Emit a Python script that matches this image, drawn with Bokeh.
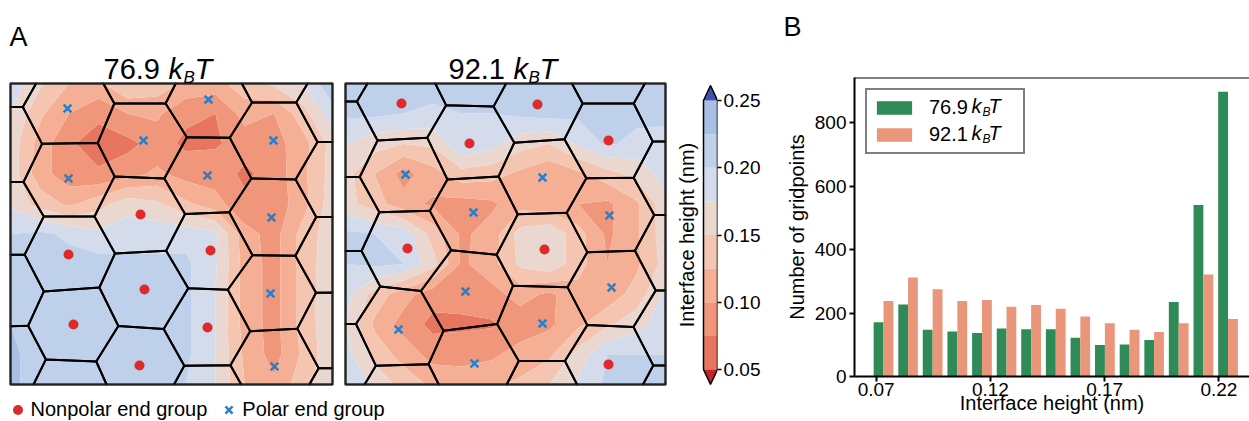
import numpy as np
from bokeh.plotting import figure
from bokeh.models import (Range1d, LinearAxis, FixedTicker, PrintfTickFormatter,
                          Label, Legend, LegendItem, Span, ColumnDataSource, Title)
from bokeh.layouts import row
from bokeh.embed import file_html
from bokeh.resources import INLINE

FONT = "Liberation Sans"

# ======================= Panel A data =======================
levels = [0.05, 0.075, 0.10, 0.125, 0.15, 0.175, 0.20, 0.225, 0.25]
cbar_ticks = [0.05, 0.10, 0.15, 0.20, 0.25]
band_colors = ["#e8765f", "#f0977b", "#f5af94", "#f4c6b1",
               "#ead7cf", "#d4dcec", "#bfd0ea", "#a9c0e4"]
under_color = "#c0272d"
over_color = "#3f52b4"

map_titles = ["76.9", "92.1"]
box76 = (322, 301)   # map extent (grid units)
box92 = (320, 301)

# interface height on a coarse grid (rows top -> bottom, cols left -> right), nm
h76 = [
    [0.190, 0.155, 0.125, 0.120, 0.150, 0.140, 0.120, 0.115, 0.140, 0.155, 0.175, 0.220],
    [0.175, 0.130, 0.100, 0.080, 0.100, 0.105, 0.080, 0.075, 0.110, 0.100, 0.140, 0.190],
    [0.165, 0.115, 0.078, 0.065, 0.068, 0.085, 0.070, 0.072, 0.085, 0.090, 0.115, 0.160],
    [0.165, 0.110, 0.085, 0.078, 0.090, 0.105, 0.090, 0.088, 0.070, 0.085, 0.120, 0.160],
    [0.170, 0.140, 0.120, 0.140, 0.165, 0.155, 0.130, 0.110, 0.080, 0.085, 0.115, 0.165],
    [0.200, 0.205, 0.195, 0.180, 0.190, 0.190, 0.190, 0.180, 0.110, 0.090, 0.135, 0.165],
    [0.205, 0.210, 0.210, 0.210, 0.205, 0.205, 0.205, 0.178, 0.115, 0.090, 0.135, 0.168],
    [0.210, 0.210, 0.210, 0.210, 0.210, 0.210, 0.205, 0.175, 0.115, 0.090, 0.135, 0.170],
    [0.225, 0.210, 0.210, 0.210, 0.210, 0.210, 0.205, 0.175, 0.115, 0.090, 0.135, 0.170],
    [0.230, 0.215, 0.210, 0.210, 0.210, 0.210, 0.205, 0.175, 0.120, 0.090, 0.130, 0.170],
    [0.230, 0.215, 0.210, 0.210, 0.210, 0.205, 0.200, 0.175, 0.125, 0.105, 0.140, 0.170],
]
h92 = [
    [0.210, 0.210, 0.215, 0.210, 0.210, 0.210, 0.210, 0.215, 0.210, 0.210, 0.210, 0.210],
    [0.205, 0.205, 0.200, 0.195, 0.200, 0.200, 0.205, 0.210, 0.205, 0.205, 0.210, 0.210],
    [0.175, 0.160, 0.150, 0.155, 0.200, 0.185, 0.160, 0.150, 0.180, 0.205, 0.190, 0.185],
    [0.160, 0.125, 0.090, 0.115, 0.140, 0.135, 0.120, 0.105, 0.120, 0.140, 0.160, 0.185],
    [0.160, 0.135, 0.110, 0.095, 0.090, 0.095, 0.115, 0.110, 0.100, 0.095, 0.120, 0.165],
    [0.205, 0.200, 0.190, 0.140, 0.095, 0.110, 0.160, 0.170, 0.135, 0.095, 0.120, 0.165],
    [0.200, 0.205, 0.200, 0.160, 0.095, 0.115, 0.155, 0.170, 0.135, 0.100, 0.120, 0.160],
    [0.185, 0.140, 0.110, 0.085, 0.085, 0.090, 0.110, 0.095, 0.115, 0.110, 0.135, 0.180],
    [0.175, 0.120, 0.090, 0.068, 0.070, 0.072, 0.085, 0.095, 0.120, 0.145, 0.165, 0.190],
    [0.185, 0.140, 0.115, 0.090, 0.090, 0.095, 0.110, 0.120, 0.160, 0.200, 0.200, 0.200],
    [0.200, 0.170, 0.140, 0.120, 0.115, 0.120, 0.130, 0.150, 0.180, 0.205, 0.210, 0.210],
]

# end-group lattice sites (grid units, y measured from top of map)
nonpolar76_x = [130, 58, 200, 134, 63, 197, 129]
nonpolar76_y = [131, 171, 167, 206, 241, 244, 282]
polar76_x = [57, 133, 198, 263, 58, 197, 261, 260, 264]
polar76_y = [25, 57, 16, 57, 95, 92, 134, 210, 283]
outside76_x = [-12, -12, -12, -11, -9, -9, 58, 60, 133, 131, 198, 198, 263, 263,
               330, 330, 330, 330, 331, 332, 332]
outside76_y = [-14, 61, 136, 207, 279, 352, -47, 313, -17, 357, -59, 320, -19, 357,
               -54, 21, 96, 171, 247, 322, 397]

nonpolar92_x = [56, 192, 124, 263, 62, 199, 263]
nonpolar92_y = [20, 21, 60, 57, 165, 166, 281]
polar92_x = [60, 197, 128, 264, 120, 266, 53, 197, 129]
polar92_y = [91, 94, 129, 132, 208, 204, 246, 240, 280]
outside92_x = [-12, -12, -12, -12, -12, -12, 57, 55, 126, 127, 194, 197, 263, 263,
               333, 333, 333, 333, 333, 333, 333]
outside92_y = [-20, 56, 131, 204, 277, 350, -53, 317, -15, 353, -53, 315, -17, 355,
               -52, 22, 94, 169, 245, 319, 392]

marker_labels = ["Nonpolar end group", "Polar end group"]

# ======================= Panel B data =======================
bin_edges = [0.0678, 0.0786, 0.0893, 0.1001, 0.1109, 0.1217, 0.1324, 0.1432,
             0.1540, 0.1647, 0.1755, 0.1863, 0.1970, 0.2078, 0.2186, 0.2294]
count_76 = [171, 227, 147, 142, 137, 151, 149, 149, 122, 99, 101, 115, 235, 540, 897]
count_92 = [238, 312, 275, 238, 241, 220, 225, 213, 189, 168, 147, 140, 168, 321, 181]
hist_xticks = [0.07, 0.12, 0.17, 0.22]
hist_yticks = [0, 200, 400, 600, 800]
series_names = ["76.9", "92.1"]
series_colors = ["#2e8b57", "#e9967a"]

RED = "#dd2a2a"
BLUE = "#2a7ec8"


# ---------------- helpers ----------------
def clip_poly(poly, a, b, c):
    out = []
    n = len(poly)
    for i in range(n):
        P = poly[i]
        Q = poly[(i + 1) % n]
        fp = a * P[0] + b * P[1] - c
        fq = a * Q[0] + b * Q[1] - c
        if fp <= 0:
            out.append(P)
        if fp * fq < 0:
            t = fp / (fp - fq)
            out.append((P[0] + t * (Q[0] - P[0]), P[1] + t * (Q[1] - P[1])))
    return out


def voronoi_cells(sx, sy, W, H):
    xs, ys = [], []
    for i in range(len(sx)):
        poly = [(0, 0), (W, 0), (W, H), (0, H)]
        for j in range(len(sx)):
            if i == j:
                continue
            a = 2.0 * (sx[j] - sx[i])
            b = 2.0 * (sy[j] - sy[i])
            c = sx[j] ** 2 + sy[j] ** 2 - sx[i] ** 2 - sy[i] ** 2
            poly = clip_poly(poly, a, b, c)
            if len(poly) < 3:
                break
        if len(poly) >= 3:
            xs.append([p[0] for p in poly])
            ys.append([p[1] for p in poly])
    return xs, ys


def add_kbt(p, x, y, fs, sub_fs, offs, sub_dy, baseline="alphabetic"):
    common = dict(x=x, y=y, text_font=FONT, text_color="black",
                  text_baseline=baseline, text_font_style="italic")
    p.add_layout(Label(text="k", x_offset=offs[0], text_font_size=f"{fs}px", **common))
    p.add_layout(Label(text="B", x_offset=offs[1], y_offset=-sub_dy,
                       text_font_size=f"{sub_fs}px", **common))
    p.add_layout(Label(text="T", x_offset=offs[2], text_font_size=f"{fs}px", **common))


# ======================= Figure A =======================
FA_W, FA_H = 780, 421
FRAME_AW = 717
CB_L, CB_R, CB_TOP, CB_BOT = 703, 717, 100, 369
kcb = (levels[-1] - levels[0]) / (CB_BOT - CB_TOP)

maps = [
    dict(key="m76", left=10, top=83, box=box76, Z=h76,
         npx=nonpolar76_x, npy=nonpolar76_y, px=polar76_x, py=polar76_y,
         gx=outside76_x, gy=outside76_y, title=map_titles[0], tx=103),
    dict(key="m92", left=345, top=83, box=box92, Z=h92,
         npx=nonpolar92_x, npy=nonpolar92_y, px=polar92_x, py=polar92_y,
         gx=outside92_x, gy=outside92_y, title=map_titles[1], tx=448),
]

pA = figure(width=FA_W, height=FA_H, x_range=Range1d(0, FRAME_AW), y_range=Range1d(FA_H, 0),
            x_axis_type=None, y_axis_type=None, toolbar_location=None, output_backend="svg",
            min_border_left=0, min_border_right=FA_W - FRAME_AW, min_border_top=0,
            min_border_bottom=0, outline_line_color=None, frame_align=False)

xr, yr = {}, {}
for m in maps:
    xr[m["key"] + "x"] = Range1d(-m["left"], FRAME_AW - m["left"])
    yr[m["key"] + "y"] = Range1d(FA_H - m["top"], -m["top"])
yr["cb"] = Range1d(levels[0] - (FA_H - CB_BOT) * kcb, levels[-1] + CB_TOP * kcb)
pA.extra_x_ranges = xr
pA.extra_y_ranges = yr

legend_renderers = None
for m in maps:
    xn, yn = m["key"] + "x", m["key"] + "y"
    W, H = m["box"]
    Z = np.array(m["Z"], dtype=float)
    gxv = np.linspace(0, W, Z.shape[1])
    gyv = np.linspace(0, H, Z.shape[0])
    cr = pA.contour(gxv, gyv, Z, levels, fill_color=band_colors, line_color=None)
    for r in (cr, cr.fill_renderer, cr.line_renderer):
        r.x_range_name = xn
        r.y_range_name = yn
    sx = list(m["npx"]) + list(m["px"]) + list(m["gx"])
    sy = list(m["npy"]) + list(m["py"]) + list(m["gy"])
    vxs, vys = voronoi_cells(sx, sy, W, H)
    pA.patches(vxs, vys, fill_color=None, line_color="black", line_width=2,
               line_join="round", x_range_name=xn, y_range_name=yn)
    pA.quad(left=[0], right=[W], top=[0], bottom=[H], fill_color=None,
            line_color="#222222", line_width=1.6, x_range_name=xn, y_range_name=yn)
    r_np = pA.scatter(m["npx"], m["npy"], marker="circle", size=10, fill_color=RED,
                      line_color=None, x_range_name=xn, y_range_name=yn)
    r_p = pA.scatter(m["px"], m["py"], marker="x", size=11, line_color=BLUE,
                     line_width=2.5, x_range_name=xn, y_range_name=yn)
    if legend_renderers is None:
        legend_renderers = (r_np, r_p)
    # title
    pA.add_layout(Label(x=m["tx"], y=68, text=m["title"], text_font=FONT,
                        text_font_size="29px", text_baseline="alphabetic", text_color="black"))
    add_kbt(pA, m["tx"], 68, 29, 17, (65, 80, 91), 9)

# colour bar
pA.quad(left=CB_L, right=CB_R, bottom=levels[:-1], top=levels[1:], fill_color=band_colors,
        line_color=None, y_range_name="cb")
tri = 15 * kcb
cmid = (CB_L + CB_R) / 2
pA.patch([CB_L, cmid, CB_R], [levels[-1], levels[-1] + tri, levels[-1]], fill_color=over_color,
         line_color=None, y_range_name="cb")
pA.patch([CB_L, cmid, CB_R], [levels[0], levels[0] - tri, levels[0]], fill_color=under_color,
         line_color=None, y_range_name="cb")
pA.patch([CB_L, cmid, CB_R, CB_R, cmid, CB_L],
         [levels[-1], levels[-1] + tri, levels[-1], levels[0], levels[0] - tri, levels[0]],
         fill_color=None, line_color="black", line_width=1.5, y_range_name="cb")
cax = LinearAxis(y_range_name="cb", ticker=FixedTicker(ticks=cbar_ticks),
                 formatter=PrintfTickFormatter(format="%.2f"), axis_line_color=None,
                 major_tick_out=4, major_tick_in=0, major_tick_line_width=1.5,
                 minor_tick_line_color=None, major_label_standoff=2,
                 major_label_text_font=FONT, major_label_text_font_size="19px",
                 major_label_text_color="black")
pA.add_layout(cax, "right")
pA.add_layout(Label(x=686, y=(CB_TOP + CB_BOT) / 2, text="Interface height (nm)", angle=np.pi / 2,
                    text_align="center", text_baseline="middle", text_font=FONT,
                    text_font_size="20px", text_color="black"))

# panel letter
pA.add_layout(Label(x=9, y=36, text="A", text_font=FONT, text_font_size="27px",
                    text_baseline="alphabetic", text_color="black"))

# marker legend
legA = Legend(items=[LegendItem(label=marker_labels[0], renderers=[legend_renderers[0]]),
                     LegendItem(label=marker_labels[1], renderers=[legend_renderers[1]])],
              orientation="horizontal", location=(4.5, -1), margin=0, padding=0,
              spacing=9, glyph_width=25, glyph_height=25, label_standoff=1,
              border_line_color=None, background_fill_alpha=0,
              label_text_font=FONT, label_text_font_size="20px", label_text_color="black")
pA.add_layout(legA)

# ======================= Figure B =======================
FB_W = 469
B_LEFT, B_TOP, B_BOT = 74, 77, 45
frame_bw = FB_W - B_LEFT
frame_bh = FA_H - B_TOP - B_BOT
SX = 2284.7          # px per nm
SY = 0.3175          # px per count
x0 = hist_xticks[0] - (875.7 - (780 + B_LEFT)) / SX
x1 = x0 + frame_bw / SX
y1 = frame_bh / SY

pB = figure(width=FB_W, height=FA_H, x_range=Range1d(x0, x1), y_range=Range1d(0, y1),
            toolbar_location=None, output_backend="svg", min_border_left=B_LEFT,
            min_border_right=0, min_border_top=B_TOP, min_border_bottom=B_BOT,
            outline_line_color=None, frame_align=False)
pB.xgrid.visible = False
pB.ygrid.visible = False
# panel letter as the plot title, pushed up by an empty title next to the frame
pB.title.text = "B"
pB.title.align = "left"
pB.title.offset = -71
pB.title.standoff = 0
pB.title.text_font = FONT
pB.title.text_font_size = "27px"
pB.title.text_font_style = "normal"
pB.title.text_color = "black"
pB.add_layout(Title(text=" ", standoff=12, text_font=FONT, text_font_size="20px"), "above")

edges = np.array(bin_edges)
left = edges[:-1]
bw = np.diff(edges)
src = ColumnDataSource(dict(x76=left + 0.3 * bw, x92=left + 0.7 * bw, w=0.4 * bw,
                            c76=count_76, c92=count_92))
g76 = pB.vbar(x="x76", top="c76", width="w", bottom=0, source=src,
              fill_color=series_colors[0], line_color=None)
g92 = pB.vbar(x="x92", top="c92", width="w", bottom=0, source=src,
              fill_color=series_colors[1], line_color=None)

for ax in (pB.xaxis[0], pB.yaxis[0]):
    ax.axis_line_width = 2
    ax.axis_line_color = "black"
    ax.major_tick_line_width = 2
    ax.major_tick_out = 5
    ax.major_tick_in = 0
    ax.minor_tick_line_color = None
    ax.major_label_text_font = FONT
    ax.major_label_text_font_size = "19px"
    ax.major_label_text_color = "black"
    ax.axis_label_text_font = FONT
    ax.axis_label_text_font_size = "20px"
    ax.axis_label_text_font_style = "normal"
    ax.axis_label_text_color = "black"
pB.xaxis.ticker = FixedTicker(ticks=hist_xticks)
pB.xaxis.formatter = PrintfTickFormatter(format="%.2f")
pB.xaxis.major_label_standoff = 1
pB.xaxis.axis_label = "Interface height (nm)"
pB.xaxis.axis_label_standoff = -7
pB.yaxis.ticker = FixedTicker(ticks=hist_yticks)
pB.yaxis.major_label_standoff = 3
pB.yaxis.axis_label = "Number of gridpoints"
pB.yaxis.axis_label_standoff = 4
pB.add_layout(Span(location=y1, dimension="width", line_color="black", line_width=2))


def bx(px):
    return x0 + (px - (780 + B_LEFT)) / SX


def by(py):
    return (FA_H - B_BOT - py) / SY


LEG_M, LEG_P, LEG_GW, LEG_GH, LEG_LH, LEG_SP, LEG_SO = 11, 5, 44, 17, 25, 2, 13
legB = Legend(items=[LegendItem(label=series_names[0], renderers=[g76]),
                     LegendItem(label=series_names[1], renderers=[g92])],
              location="top_left", margin=LEG_M, padding=LEG_P, spacing=LEG_SP,
              glyph_width=LEG_GW, glyph_height=LEG_GH, label_standoff=LEG_SO,
              label_width=89, label_height=LEG_LH, border_line_color="black",
              border_line_width=2, background_fill_alpha=0,
              label_text_font=FONT, label_text_font_size="20px", label_text_color="black")
pB.add_layout(legB)
text_x = 780 + B_LEFT + LEG_M + LEG_P + LEG_GW + LEG_SO
for i in range(2):
    cy = B_TOP + LEG_M + LEG_P + LEG_LH / 2 + i * (LEG_LH + LEG_SP)
    add_kbt(pB, bx(text_x), by(cy), 20, 12, (44, 55, 61), 6, baseline="middle")

layout = row(pA, pB)
open("out.html", "w").write(file_html(layout, INLINE))
